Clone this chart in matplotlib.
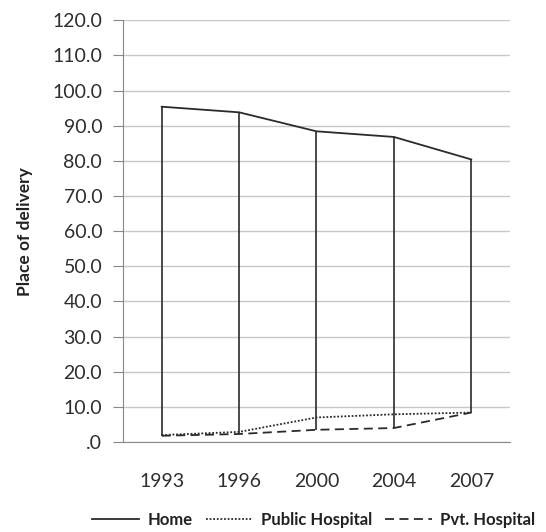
import numpy as np
import matplotlib
matplotlib.use('Agg')
import matplotlib.pyplot as plt

years = ['1993', '1996', '2000', '2004', '2007']
home = [95.4, 93.8, 88.4, 86.8, 80.4]
public_hosp = [2.0, 2.9, 7.0, 7.9, 8.4]
pvt_hosp = [1.8, 2.3, 3.5, 4.0, 8.4]
yticks = np.arange(0, 121, 10)

plt.rcParams['font.family'] = ['Lato', 'DejaVu Sans']

fig = plt.figure(figsize=(5.46, 5.32), dpi=100)
ax = fig.add_axes([0.2253, 0.169, 0.7087, 0.793])

x = np.arange(len(years))
col = '#2b2b2b'

# high-low lines like the excel chart
lo = np.minimum(np.minimum(home, public_hosp), pvt_hosp)
hi = np.maximum(np.maximum(home, public_hosp), pvt_hosp)
ax.vlines(x, lo, hi, color=col, lw=1.2, zorder=3)

ax.plot(x, home, color=col, lw=1.3, ls='-', label='Home', zorder=4)
ax.plot(x, public_hosp, color=col, lw=1.3, ls=(0, (1, 1)), label='Public Hospital', zorder=4)
ax.plot(x, pvt_hosp, color=col, lw=1.3, ls=(0, (5, 3)), label='Pvt. Hospital', zorder=4)

ax.set_xlim(-0.5, 4.5)
ax.set_ylim(0, 120)
ax.set_yticks(yticks)
ax.set_yticklabels(['.0' if v == 0 else '%.1f' % v for v in yticks])
ax.set_xticks(x)
ax.set_xticklabels(years)
ax.grid(axis='y', color='#c8c8c8', lw=1.0)
ax.set_axisbelow(True)

for s in ['top', 'right']:
    ax.spines[s].set_visible(False)
ax.spines['left'].set_color('#888888')
ax.spines['bottom'].set_color('#888888')
ax.tick_params(axis='y', length=7, color='#888888', labelsize=14, labelcolor='#2e2e2e', pad=8)
ax.tick_params(axis='x', length=0, labelsize=14, labelcolor='#2e2e2e', pad=22)

ax.set_ylabel('Place of delivery', fontsize=12.5, fontweight='bold', color='#222222', labelpad=14)

leg = fig.legend(loc='lower center', bbox_to_anchor=(0.575, -0.02), ncol=3, frameon=False,
                 handlelength=2.8, columnspacing=0.8, handletextpad=0.5,
                 prop={'weight': 'bold', 'size': 12})
for t in leg.get_texts():
    t.set_color('#222222')

fig.savefig('out.png', dpi=100)
